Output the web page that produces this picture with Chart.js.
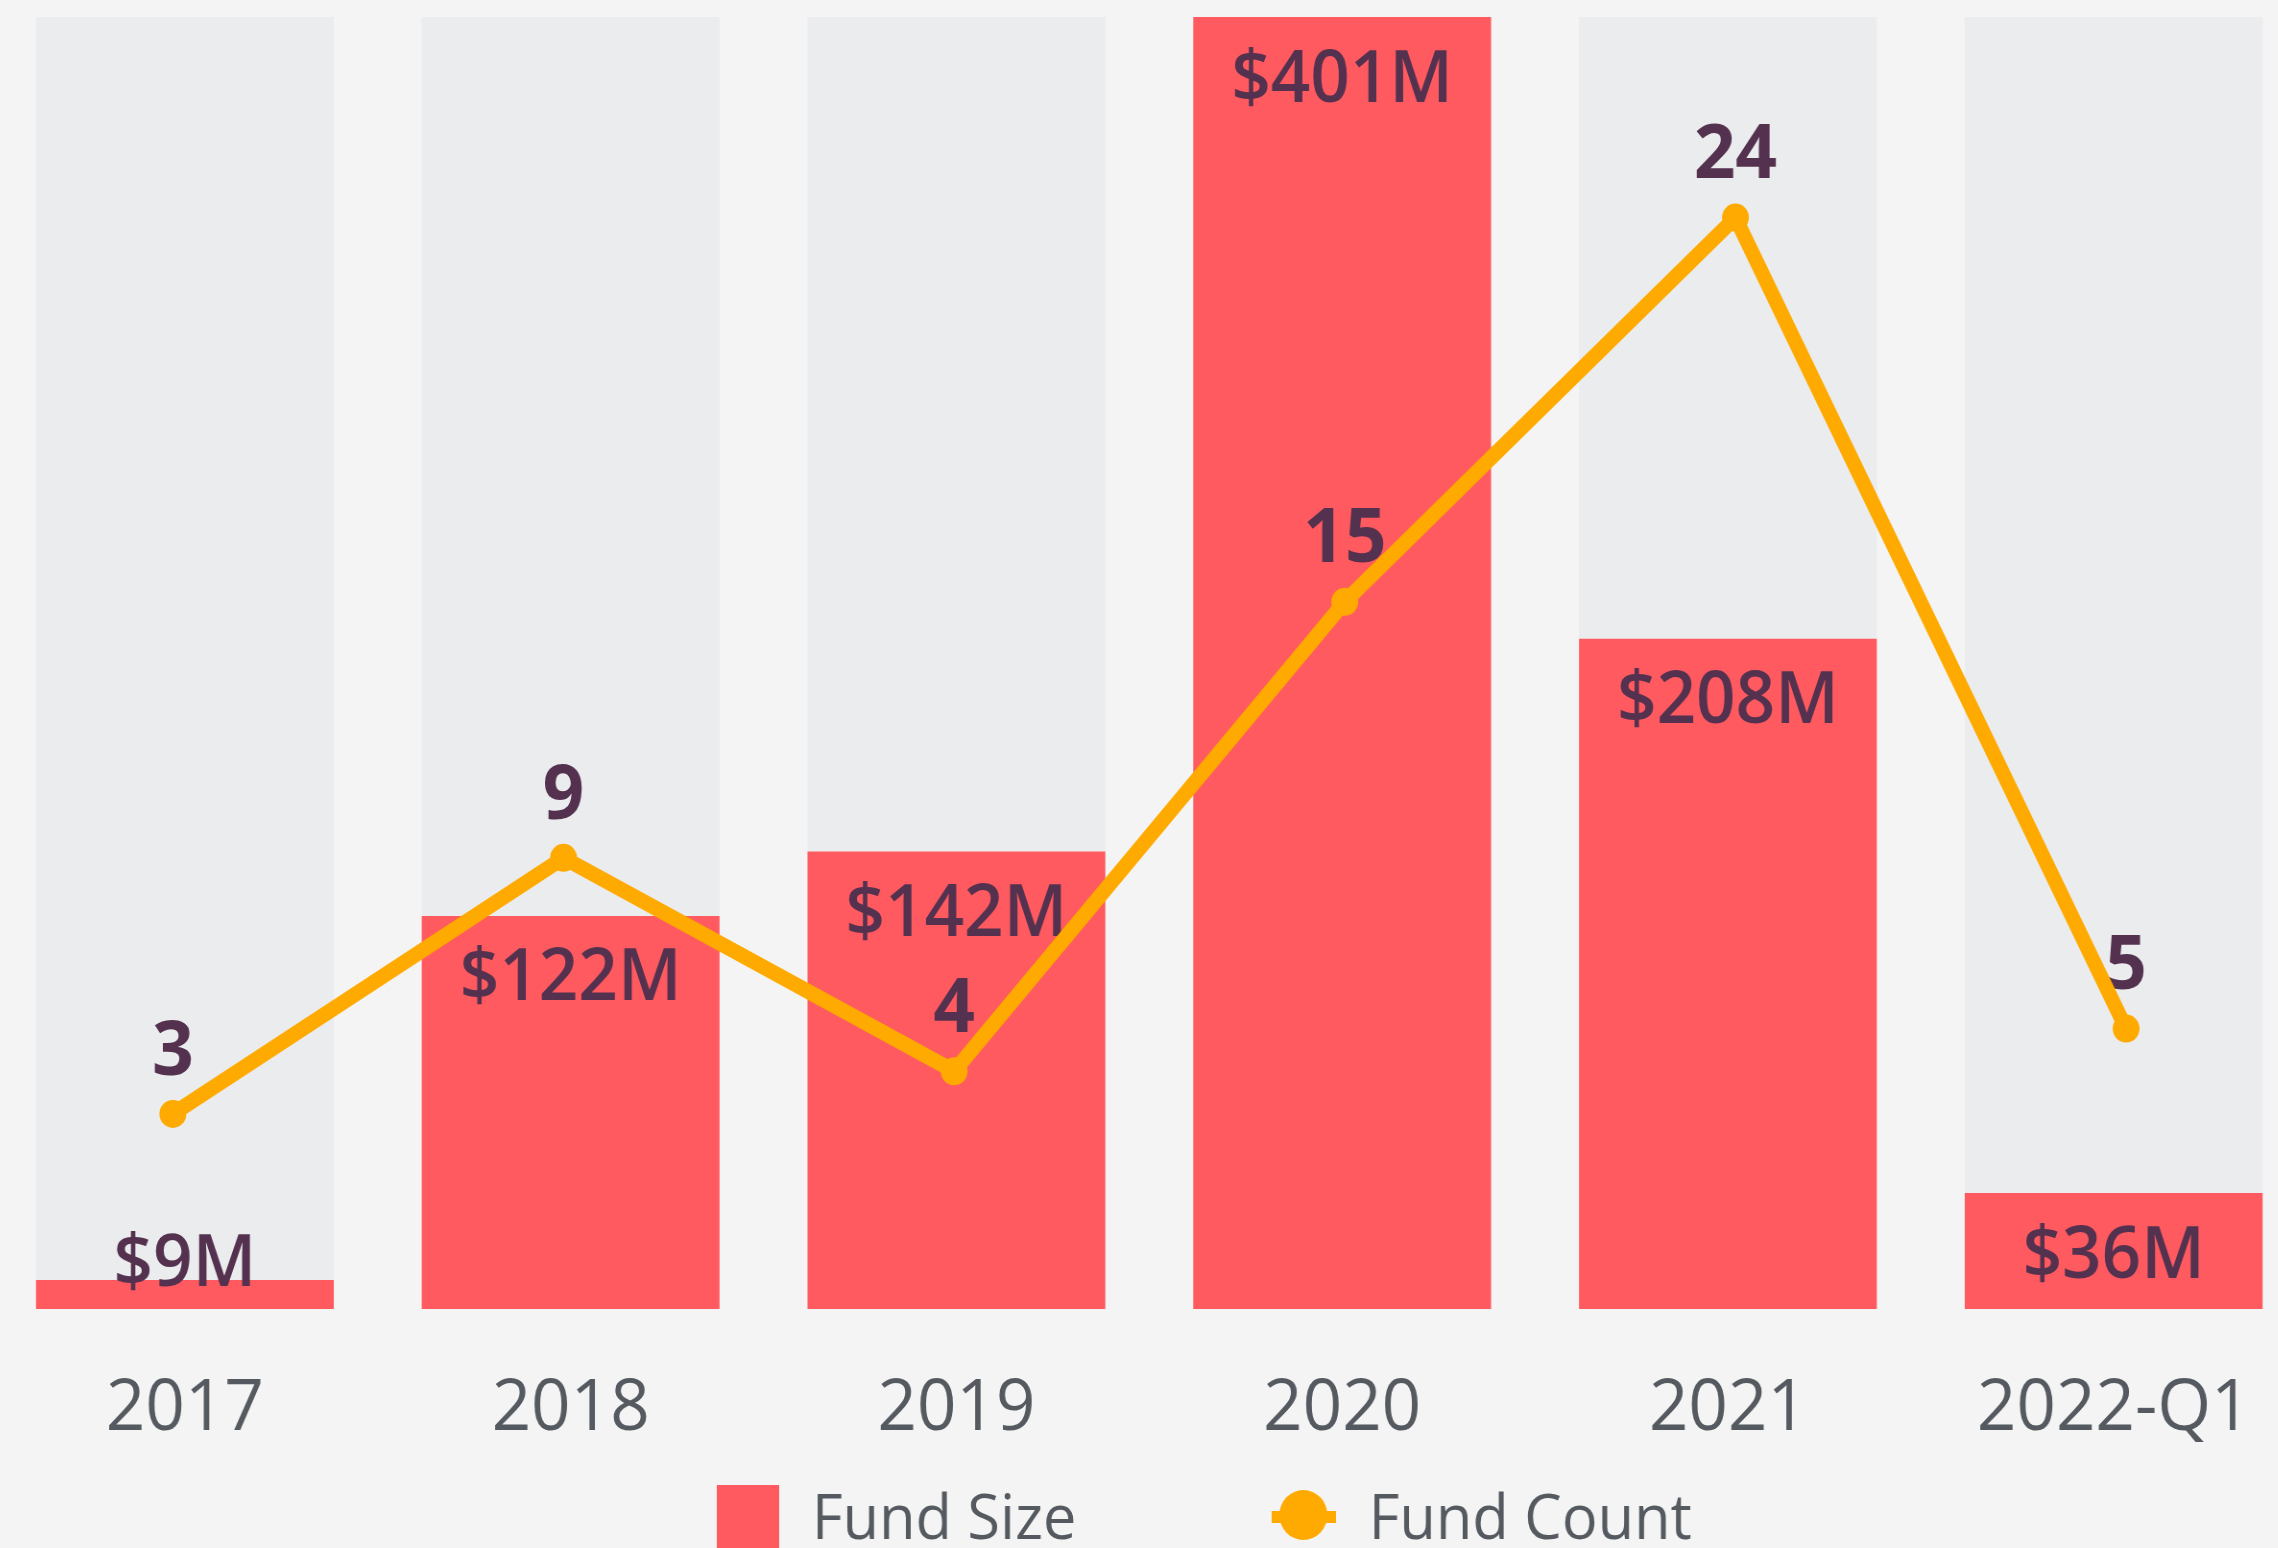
<!DOCTYPE html>
<html>
<head>
<meta charset="utf-8">
<title>Fund Size and Fund Count</title>
<script src="https://cdn.jsdelivr.net/npm/chart.js@4.4.1/dist/chart.umd.min.js"></script>
<style>
    html, body { margin: 0; padding: 0; background: #f4f4f4; overflow: hidden; }
    /* the chart is laid out a bit wider and squeezed back to the page width */
    #wrap { position: absolute; left: -8px; top: 0; transform: scaleX(0.96); transform-origin: 0 0; }
</style>
</head>
<body>
<div id="wrap"><canvas id="fundChart" width="2411" height="1548"></canvas></div>
<script>
const years = ['2017', '2018', '2019', '2020', '2021', '2022-Q1'];
const fundSize = [9, 122, 142, 401, 208, 36];      // $M
const fundCount = [3, 9, 4, 15, 24, 5];
const sizeTrack = [401, 401, 401, 401, 401, 401];  // grey column behind each bar

const RED = '#ff5a5f';
const ORANGE = '#ffaa00';
const TRACK = '#ebecee';
const LABEL = '#54324f';
const TICK = '#555a60';
const FONT = '"Open Sans", "Noto Sans", sans-serif';

// value labels go under the line: $ amounts inside the bars, counts above the points
const valueLabels = {
    id: 'valueLabels',
    beforeDatasetDraw(chart, args) {
        if (args.meta.type !== 'line') return;
        const ctx = chart.ctx;
        const area = chart.chartArea;
        ctx.save();
        ctx.fillStyle = LABEL;
        ctx.textAlign = 'center';
        ctx.textBaseline = 'middle';

        ctx.font = '600 72px ' + FONT;
        chart.getDatasetMeta(1).data.forEach((bar, i) => {
            const y = Math.min(bar.y + 64, area.bottom - 44);
            ctx.fillText('$' + fundSize[i] + 'M', bar.x, y);
        });

        ctx.font = 'bold 76px ' + FONT;
        args.meta.data.forEach((pt, i) => {
            ctx.fillText(String(fundCount[i]), pt.x, pt.y - 61);
        });
        ctx.restore();
    }
};

// legend along the bottom edge
const bottomLegend = {
    id: 'bottomLegend',
    afterDraw(chart) {
        const ctx = chart.ctx;
        ctx.save();
        ctx.font = '62px ' + FONT;
        ctx.textBaseline = 'alphabetic';
        ctx.textAlign = 'left';

        ctx.fillStyle = RED;
        ctx.fillRect(755, 1485, 65, 63);
        ctx.fillStyle = TICK;
        ctx.fillText('Fund Size', 854, 1539);

        ctx.strokeStyle = ORANGE;
        ctx.lineWidth = 12;
        ctx.beginPath();
        ctx.moveTo(1333, 1517);
        ctx.lineTo(1400, 1517);
        ctx.stroke();
        ctx.fillStyle = ORANGE;
        ctx.beginPath();
        ctx.arc(1366, 1515, 25, 0, Math.PI * 2);
        ctx.fill();
        ctx.fillStyle = TICK;
        ctx.fillText('Fund Count', 1434, 1539);
        ctx.restore();
    }
};

const ctx = document.getElementById('fundChart').getContext('2d');
const fundChart = new Chart(ctx, {
    type: 'bar',
    data: {
        labels: years,
        datasets: [{
            type: 'line',
            label: 'Fund Count',
            // the count line runs on its own index axis, slightly wider than the bars
            data: fundCount.map((v, i) => ({ x: i, y: v })),
            xAxisID: 'x1',
            yAxisID: 'y1',
            borderColor: ORANGE,
            backgroundColor: ORANGE,
            borderWidth: 15,
            pointRadius: 14,
            pointBorderWidth: 0,
            pointBackgroundColor: ORANGE,
            tension: 0,
            order: 0
        }, {
            label: 'Fund Size',
            data: fundSize,
            yAxisID: 'y',
            backgroundColor: RED,
            grouped: false,
            order: 1
        }, {
            label: 'track',
            data: sizeTrack,
            yAxisID: 'y',
            backgroundColor: TRACK,
            grouped: false,
            order: 2
        }]
    },
    options: {
        responsive: false,
        animation: false,
        devicePixelRatio: 1,
        layout: { autoPadding: false, padding: { top: 17, left: 0, right: 0, bottom: 0 } },
        datasets: {
            bar: { barPercentage: 0.772, categoryPercentage: 1 }
        },
        plugins: {
            legend: { display: false },
            tooltip: { enabled: false }
        },
        scales: {
            x: {
                grid: { display: false, drawTicks: false },
                border: { display: false },
                ticks: {
                    color: TICK,
                    font: { family: FONT, size: 72 },
                    padding: 57
                },
                afterFit: (scale) => { scale.height = 239; }
            },
            x1: {
                type: 'linear',
                display: false,
                offset: false,
                grid: { offset: false },
                min: -0.463,
                max: 5.462
            },
            y: {
                display: false,
                min: 0,
                max: 401
            },
            y1: {
                display: false,
                min: -1.57,
                max: 28.7
            }
        }
    },
    plugins: [valueLabels, bottomLegend]
});
</script>
</body>
</html>
